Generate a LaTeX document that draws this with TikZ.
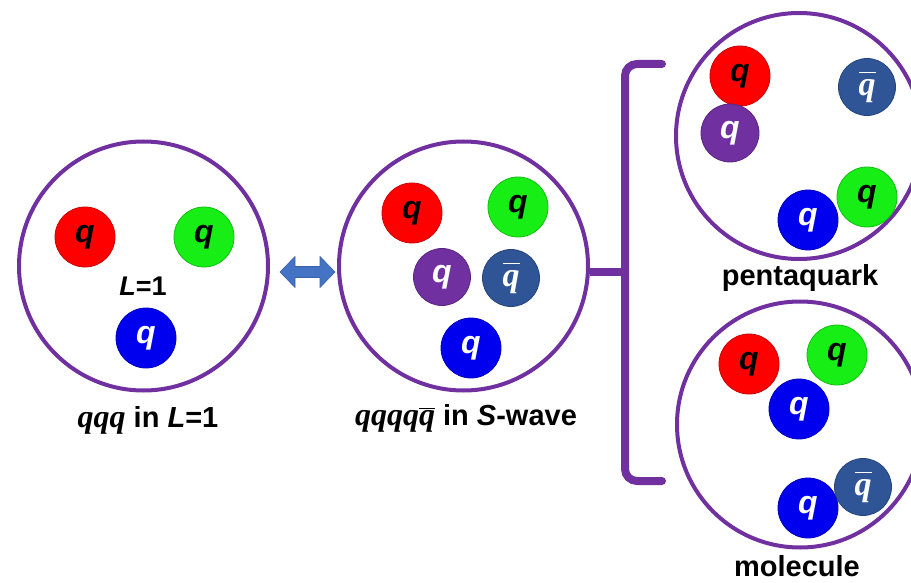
\documentclass[tikz,border=0pt]{standalone}
\usepackage{fontspec}
\setmainfont{Liberation Sans}
\newfontfamily\qserif{Liberation Serif}
\usetikzlibrary{calc}

\definecolor{hadron}{HTML}{7030A0}
\definecolor{qred}{HTML}{FF0000}
\definecolor{qgreen}{HTML}{16EE16}
\definecolor{qblue}{HTML}{0000EE}
\definecolor{qpurple}{HTML}{7030A0}
\definecolor{qanti}{HTML}{2F5597}
\definecolor{arrowblue}{HTML}{4472C4}

% quark glyphs
\newcommand{\qk}{\fontsize{32}{34}\selectfont\bfseries\itshape q}
\newcommand{\qa}{\fontsize{34}{36}\selectfont$\overline{\vphantom{\hbox{\qserif I}}\hbox{\qserif\bfseries\itshape q}}$}
\newcommand{\qs}{{\qserif\fontsize{32}{34}\selectfont\bfseries\itshape q}}
\newcommand{\qsbar}{{\fontsize{32}{34}\selectfont$\overline{\hbox{\qserif\bfseries\itshape q}}$}}

\tikzset{
  hadronring/.style={circle, draw=hadron, line width=4pt, minimum size=#1, inner sep=0pt},
  quark/.style={circle, minimum size=60pt, inner sep=0pt, fill=#1, draw=#1!80!black, line width=0.8pt},
  qdark/.style={text=black},
  qlight/.style={text=white},
  caption/.style={anchor=base, font=\fontsize{29}{32}\selectfont\bfseries, text=black, inner sep=0pt},
  bracketline/.style={draw=hadron, line width=8pt, line cap=round}
}

\begin{document}
\begin{tikzpicture}[x=1pt, y=-1pt]
\useasboundingbox (0,0) rectangle (911,583);

% ---- baryon with orbital excitation ----
\node[hadronring=249pt] (left) at (143.5,266) {};
\node[quark=qred, qdark]   (l1) at (85,237)  {\qk};
\node[quark=qgreen, qdark] (l2) at (204,237) {\qk};
\node[quark=qblue, qlight] (l3) at (146,338) {\qk};
\node[font=\fontsize{27}{30}\selectfont\bfseries, inner sep=0pt] (lL) at (143,286) {\textit{L}=1};
\node[caption] (lcap) at (148,427) {\qs\qs\qs\ in \textit{L}=1};

% ---- five-quark state in S-wave ----
\node[hadronring=249pt] (mid) at (463.5,266) {};
\node[quark=qred, qdark]     (m1) at (412,213) {\qk};
\node[quark=qgreen, qdark]   (m2) at (518,207) {\qk};
\node[quark=qpurple, qlight, minimum size=57pt] (m3) at (442,277) {\qk};
\node[quark=qanti, qlight, minimum size=57pt]   (m4) at (511,278) {\qa};
\node[quark=qblue, qlight]   (m5) at (471,348) {\qk};
\node[caption] (mcap) at (466,425) {\qs\qs\qs\qs\qsbar\ in \textit{S}-wave};

% ---- equivalence arrow ----
\fill[arrowblue, draw=arrowblue!85!black, line width=0.6pt]
  (280,272) -- (295,256.5) -- (295,266.5) -- (320,266.5) -- (320,256.5) -- (335,272)
  -- (320,287.5) -- (320,277.5) -- (295,277.5) -- (295,287.5) -- cycle;

% ---- bracket to the two interpretations ----
\coordinate (btop) at (662,64);
\coordinate (bbot) at (662,481);
\coordinate (bjoin) at (625,272);
\draw[bracketline, rounded corners=12pt] (btop) -- (625,64) -- (625,481) -- (bbot);
\draw[bracketline, line cap=butt] (mid.east |- bjoin) -- (bjoin);

% ---- compact pentaquark ----
\node[hadronring=246pt] (penta) at (799,136) {};
\node[quark=qred, qdark]     (p1) at (740,76)  {\qk};
\node[quark=qanti, qlight, minimum size=57pt] (p2) at (867,87) {\qa};
\node[quark=qpurple, qlight, minimum size=58pt] (p3) at (730,133) {\qk};
\node[quark=qgreen, qdark]   (p4) at (867,197) {\qk};
\node[quark=qblue, qlight]   (p5) at (808,220) {\qk};
\node[caption] (pcap) at (800,285) {pentaquark};

% ---- meson-baryon molecule ----
\node[hadronring=246pt] (mol) at (800,424.5) {};
\node[quark=qred, qdark]     (o1) at (749,364) {\qk};
\node[quark=qgreen, qdark]   (o2) at (837,355) {\qk};
\node[quark=qblue, qlight]   (o3) at (799,409) {\qk};
\node[quark=qblue, qlight]   (o4) at (808,508) {\qk};
\node[quark=qanti, qlight, minimum size=57pt] (o5) at (863,487) {\qa};
\node[caption] (ocap) at (797,576) {molecule};
\end{tikzpicture}
\end{document}
